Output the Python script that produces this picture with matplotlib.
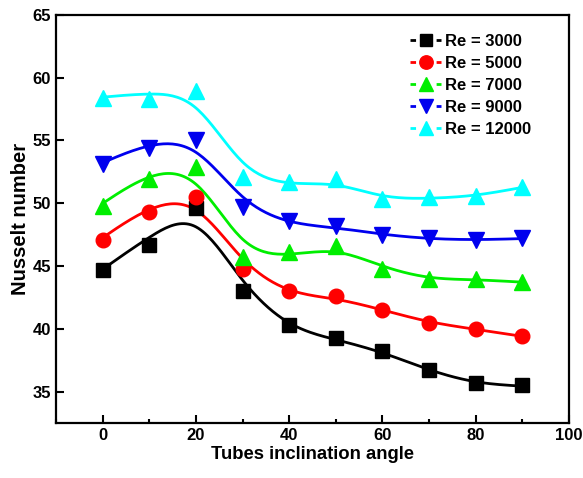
import numpy as np
import matplotlib
matplotlib.use("Agg")
import matplotlib.pyplot as plt
from matplotlib.lines import Line2D
from matplotlib.ticker import MultipleLocator

plt.rcParams['font.family'] = ['Liberation Sans', 'DejaVu Sans']
plt.rcParams['font.weight'] = 'bold'

angles = [0, 10, 20, 30, 40, 50, 60, 70, 80, 90]
nu_re3000 = [44.7, 46.7, 49.6, 43.0, 40.3, 39.3, 38.2, 36.7, 35.7, 35.5]
nu_re5000 = [47.1, 49.3, 50.5, 44.8, 43.0, 42.6, 41.5, 40.5, 40.0, 39.4]
nu_re7000 = [49.8, 51.9, 52.9, 45.7, 46.1, 46.6, 44.8, 44.0, 44.0, 43.7]
nu_re9000 = [53.1, 54.4, 55.0, 49.7, 48.6, 48.2, 47.5, 47.2, 47.1, 47.2]
nu_re12000 = [58.4, 58.3, 58.9, 52.1, 51.7, 51.9, 50.3, 50.5, 50.6, 51.3]
labels = ['Re = 3000', 'Re = 5000', 'Re = 7000', 'Re = 9000', 'Re = 12000']


def smooth_curve(x, y, lam_c=80.0, step=0.5):
    """Cubic smoothing-spline approximation on a fine grid (penalised 2nd differences)."""
    x = np.asarray(x, float)
    y = np.asarray(y, float)
    grid = np.arange(x.min(), x.max() + step / 2, step)
    n = len(grid)
    w = np.zeros(n)
    z = np.zeros(n)
    idx = np.round((x - grid[0]) / step).astype(int)
    w[idx] = 1.0
    z[idx] = y
    d = np.diff(np.eye(n), 2, axis=0)
    lam = lam_c / step ** 3
    a = np.diag(w) + lam * d.T @ d
    f = np.linalg.solve(a, w * z)
    return grid, f


series = [nu_re3000, nu_re5000, nu_re7000, nu_re9000, nu_re12000]
colors = ['black', 'red', '#00ee00', '#0000ee', 'cyan']
markers = ['s', 'o', '^', 'v', '^']
msizes = [9.5, 10.5, 11, 11, 11]

fig = plt.figure(figsize=(5.83, 4.78), dpi=100)
ax = fig.add_axes([0.096, 0.115, 0.880, 0.854])

handles = []
for ys, c, m, ms, lab in zip(series, colors, markers, msizes, labels):
    gx, gy = smooth_curve(angles, ys)
    ax.plot(gx, gy, color=c, lw=2.0, zorder=2)
    ax.plot(angles, ys, linestyle='none', marker=m, markersize=ms,
            color=c, zorder=3)
    # dash - marker - dash legend key (dash lengths scale with linewidth 2)
    handles.append(Line2D([], [], color=c, lw=2.0, linestyle=(0, (2.0, 7.4)),
                          marker=m, markersize=ms * 0.92))

ax.set_xlim(-10, 100)
ax.set_ylim(32.5, 65)
ax.xaxis.set_major_locator(MultipleLocator(20))
ax.xaxis.set_minor_locator(MultipleLocator(10))
ax.yaxis.set_major_locator(MultipleLocator(5))
ax.tick_params(which='both', direction='in', top=False, right=False,
               labelsize=12, width=1.5)
ax.tick_params(which='major', length=6)
ax.tick_params(which='minor', length=3)
for lab in ax.get_xticklabels() + ax.get_yticklabels():
    lab.set_fontweight('bold')
for sp in ax.spines.values():
    sp.set_linewidth(1.6)

ax.set_xlabel('Tubes inclination angle', fontsize=13.3, fontweight='bold', labelpad=2)
ax.set_ylabel('Nusselt number', fontsize=14.5, fontweight='bold', labelpad=2)

leg = ax.legend(handles, labels, loc='upper right', frameon=False,
                handlelength=1.9, handletextpad=0.2,
                labelspacing=0.42, bbox_to_anchor=(0.955, 0.99),
                prop={'weight': 'bold', 'size': 12})

fig.savefig('out.png', dpi=100)
